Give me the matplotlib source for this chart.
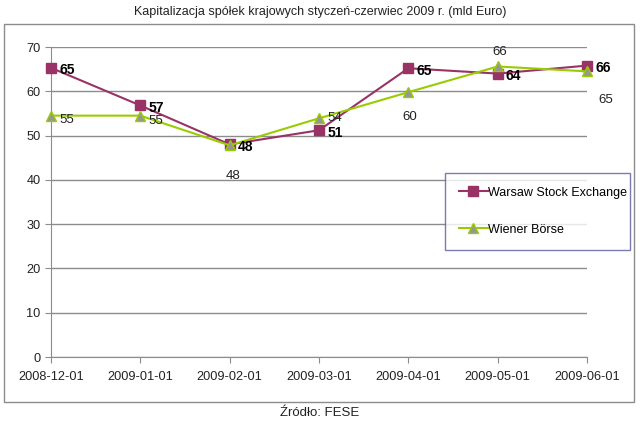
import matplotlib
matplotlib.use("Agg")
import matplotlib.pyplot as plt
from matplotlib.patches import Rectangle

# data
dates = ["2008-12-01", "2009-01-01", "2009-02-01", "2009-03-01",
         "2009-04-01", "2009-05-01", "2009-06-01"]
wse = [65.3, 56.8, 48.0, 51.2, 65.2, 64.0, 65.8]
wse_labels = ["65", "57", "48", "51", "65", "64", "66"]
wiener = [54.5, 54.5, 47.8, 53.9, 59.8, 65.6, 64.5]
wiener_labels = ["55", "55", "48", "54", "60", "66", "65"]

# label offsets in points (Excel-like placement)
wiener_offsets = [(6, -5), (6, -6), (-3, -24), (6, -2), (-4, -20), (-4, 8), (8, -23)]

plt.rcParams["font.family"] = ["Liberation Sans", "DejaVu Sans"]

fig = plt.figure(figsize=(6.4, 4.25), dpi=100)
ax = fig.add_axes([51 / 640, 1 - 357 / 425, 536 / 640, 310 / 425])

x = list(range(len(dates)))
ax.plot(x, wse, color="#993366", lw=1.5, marker="s", ms=6.5,
        mfc="#993366", mec="#993366", clip_on=False, zorder=3,
        label="Warsaw Stock Exchange")
ax.plot(x, wiener, color="#99CC00", lw=1.5, marker="^", ms=7.5,
        mfc="#969696", mec="#99CC00", clip_on=False, zorder=4,
        label="Wiener Börse")

for xi, v, t in zip(x, wse, wse_labels):
    ax.annotate(t, (xi, v), xytext=(6, -4.5), textcoords="offset points",
                fontsize=10, fontweight="bold", color="black", zorder=5)
for xi, v, t, off in zip(x, wiener, wiener_labels, wiener_offsets):
    ax.annotate(t, (xi, v), xytext=off, textcoords="offset points",
                fontsize=9.5, color="#222222", zorder=5)

ax.set_xlim(0, 6)
ax.set_ylim(0, 70)
ax.set_yticks(range(0, 71, 10))
ax.set_xticks(x)
ax.set_xticklabels(dates)
ax.yaxis.grid(True, color="#8c8c8c", lw=1)
ax.set_axisbelow(True)
for s in ["top", "right"]:
    ax.spines[s].set_visible(False)
for s in ["left", "bottom"]:
    ax.spines[s].set_color("#8c8c8c")
ax.tick_params(axis="both", colors="#8c8c8c", labelcolor="#222222",
               labelsize=9.2, length=4, direction="out")
ax.tick_params(axis="x", pad=6)

leg = fig.legend(loc="upper left",
                 bbox_to_anchor=(445 / 640, 1 - 250 / 425, 185 / 640, 77 / 425),
                 mode="expand", frameon=True, fancybox=False, fontsize=9,
                 labelspacing=2.0, handlelength=2.3, handletextpad=0.05,
                 borderaxespad=0, borderpad=1.1, edgecolor="#5a5aa0")
leg.get_frame().set_linewidth(1.0)

# outer chart border
fig.patches.append(Rectangle((4 / 640, 1 - 402 / 425), 630 / 640, 378 / 425,
                             transform=fig.transFigure, fill=False,
                             edgecolor="#8c8c8c", lw=1))

fig.text(0.5, 1 - 12 / 425, "Kapitalizacja spółek krajowych styczeń-czerwiec 2009 r. (mld Euro)",
         ha="center", va="center", fontsize=9, color="#222222")
fig.text(0.5, 1 - 413 / 425, "Źródło: FESE", ha="center", va="center",
         fontsize=9.5, color="#222222")

fig.savefig("out.png", dpi=100)
